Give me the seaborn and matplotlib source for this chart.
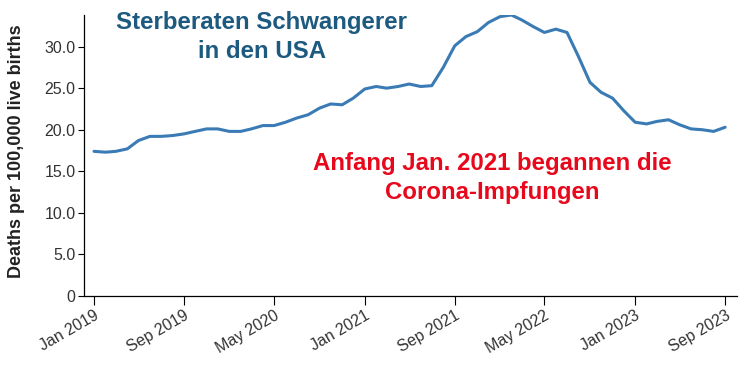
import matplotlib
matplotlib.use("Agg")
import matplotlib.pyplot as plt
import matplotlib.dates as mdates
import seaborn as sns
import pandas as pd

# ---- data (monthly, Jan 2019 .. Sep 2023) ----
start_month = "2019-01-01"
rates = [17.4, 17.3, 17.4, 17.7, 18.7, 19.2, 19.2, 19.3, 19.5, 19.8,
         20.1, 20.1, 19.8, 19.8, 20.1, 20.5, 20.5, 20.9, 21.4, 21.8,
         22.6, 23.1, 23.0, 23.8, 24.9, 25.2, 25.0, 25.2, 25.5, 25.2,
         25.3, 27.5, 30.1, 31.2, 31.8, 32.9, 33.6, 33.8, 33.2, 32.4,
         31.7, 32.1, 31.7, 28.8, 25.7, 24.5, 23.8, 22.3, 20.9, 20.7,
         21.0, 21.2, 20.6, 20.1, 20.0, 19.8, 20.3]
tick_dates = ["2019-01-01", "2019-09-01", "2020-05-01", "2021-01-01",
              "2021-09-01", "2022-05-01", "2023-01-01", "2023-09-01"]
y_ticks = [0, 5, 10, 15, 20, 25, 30]
y_tick_labels = ["0", "5.0", "10.0", "15.0", "20.0", "25.0", "30.0"]
title_lines = ["Sterberaten Schwangerer", "in den USA"]
note_lines = ["Anfang Jan. 2021 begannen die", "Corona-Impfungen"]
y_label = "Deaths per 100,000 live births"

dates = pd.date_range(start_month, periods=len(rates), freq="MS")
df = pd.DataFrame({"date": dates, "rate": rates})

sns.set_theme(style="white")
plt.rcParams["font.family"] = ["Liberation Sans", "DejaVu Sans"]

W, H = 741, 365
fig = plt.figure(figsize=(W / 100, H / 100), dpi=100)
ax = fig.add_axes([84 / W, 1 - 296 / H, (737 - 84) / W, (296 - 15) / H])

sns.lineplot(data=df, x="date", y="rate", ax=ax, color="#3b7bb5",
             linewidth=2.2)

ax.set_ylim(0, max(rates))
ax.set_xlim(pd.Timestamp("2019-01-01") - pd.Timedelta(days=27),
            pd.Timestamp("2023-09-01") + pd.Timedelta(days=32))

ax.set_yticks(y_ticks)
ax.set_yticklabels(y_tick_labels)
tds = pd.to_datetime(tick_dates)
ax.set_xticks(tds)
ax.set_xticklabels([d.strftime("%b %Y") for d in tds], rotation=30,
                   ha="right", rotation_mode="anchor")

ax.tick_params(axis="y", length=4.5, width=0.8, pad=1.5, labelsize=11.5,
               labelcolor="#333333", color="black", left=True)
ax.tick_params(axis="x", length=6.5, width=0.8, pad=2, labelsize=11.5,
               labelcolor="#333333", color="black", bottom=True)

for s in ["top", "right"]:
    ax.spines[s].set_visible(False)
for s in ["left", "bottom"]:
    ax.spines[s].set_color("black")
    ax.spines[s].set_linewidth(0.9)

ax.set_xlabel("")
ax.set_ylabel("")
fig.text(17 / W, 1 - 151 / H, y_label, rotation=90, ha="center",
         va="center", fontsize=13, fontweight="bold", color="#222222")

title_color = "#1d5a80"
fig.text(262 / W, 1 - 29 / H, title_lines[0], ha="center", va="baseline",
         fontsize=17.3, fontweight="bold", color=title_color)
fig.text(262 / W, 1 - 58 / H, title_lines[1], ha="center", va="baseline",
         fontsize=17.3, fontweight="bold", color=title_color)

red = "#e8081c"
fig.text(492 / W, 1 - 170 / H, note_lines[0], ha="center", va="baseline",
         fontsize=17.3, fontweight="bold", color=red)
fig.text(492 / W, 1 - 199 / H, note_lines[1], ha="center", va="baseline",
         fontsize=17.3, fontweight="bold", color=red)

fig.savefig("out.png", dpi=100)
